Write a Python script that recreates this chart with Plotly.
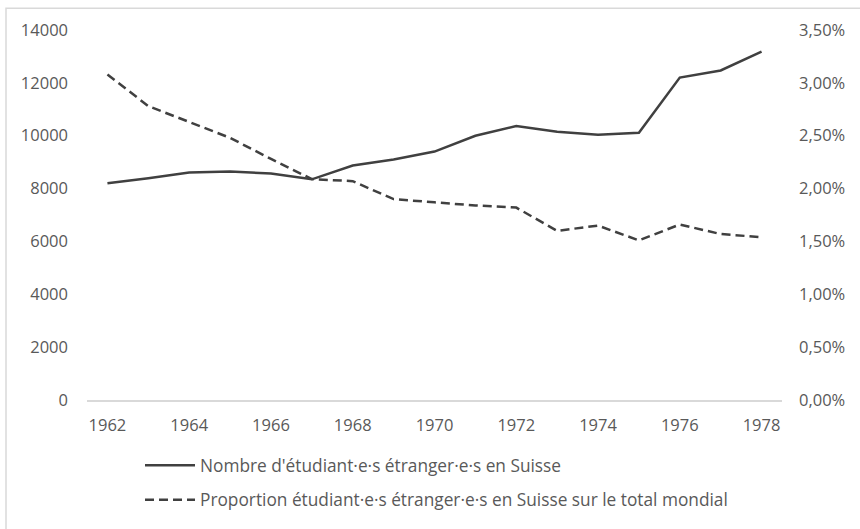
import plotly.graph_objects as go

years = list(range(1962, 1979))
students = [8200, 8390, 8610, 8650, 8570, 8350, 8870, 9100, 9400, 10000,
            10370, 10150, 10040, 10110, 12200, 12470, 13180]
share_pct = [3.08, 2.78, 2.63, 2.48, 2.28, 2.09, 2.07, 1.90, 1.87, 1.84,
             1.82, 1.60, 1.65, 1.51, 1.66, 1.57, 1.54]

name1 = "Nombre d'étudiant·e·s étranger·e·s en Suisse"
name2 = "Proportion étudiant·e·s étranger·e·s en Suisse sur le total mondial"

line_col = "#404040"
txt_col = "#595959"
font_fam = "Open Sans, Noto Sans, sans-serif"

fig = go.Figure()
fig.add_trace(go.Scatter(x=years, y=students, mode="lines", name=name1, legendgroup="a",
                         line=dict(color=line_col, width=2.5), yaxis="y"))
fig.add_trace(go.Scatter(x=years, y=[v / 100 for v in share_pct], mode="lines", name=name2,
                         legendgroup="b",
                         line=dict(color=line_col, width=2.5, dash="9px,5px"), yaxis="y2"))

L, R, T, B = 87, 78, 30, 125
W, H = 860, 529
pw, ph = W - L - R, H - T - B

def px(x):
    return (x - L) / pw

def py(y):
    return (H - B - y) / ph

fig.update_layout(
    width=W, height=H,
    margin=dict(l=L, r=R, t=T, b=B, pad=0),
    paper_bgcolor="white", plot_bgcolor="white",
    separators=",.",
    font=dict(family=font_fam, size=16.5, color=txt_col),
    showlegend=True,
    legend=dict(orientation="v", x=px(140), y=py(452), xanchor="left", yanchor="top",
                font=dict(size=17.3, color=txt_col), itemwidth=50, traceorder="grouped",
                tracegroupgap=9, bgcolor="rgba(0,0,0,0)"),
    xaxis=dict(range=[1961.5, 1978.5], tickmode="array", tickvals=years[::2],
               ticktext=[str(y) for y in years[::2]], showgrid=False, zeroline=False,
               showline=True, linecolor="#d9d9d9", linewidth=1.5, ticks="",
               ticklabelstandoff=9, tickfont=dict(size=16.5, color=txt_col)),
    yaxis=dict(range=[0, 14000], dtick=2000, tickformat="d", showgrid=False,
               zeroline=False, showline=False, ticks="", ticklabelstandoff=18,
               tickfont=dict(size=16.5, color=txt_col)),
    yaxis2=dict(range=[0, 0.035], dtick=0.005, tickformat=".2%", overlaying="y",
                side="right", showgrid=False, zeroline=False, showline=False,
                ticks="", ticklabelstandoff=16, tickfont=dict(size=16.5, color=txt_col)),
    shapes=[dict(type="rect", xref="paper", yref="paper",
                 x0=px(6), x1=px(870), y0=py(540), y1=py(8),
                 line=dict(color="#d9d9d9", width=1.5), fillcolor="rgba(0,0,0,0)",
                 layer="below")],
)

fig.write_html("out.html", config={"displayModeBar": False},
               post_script="document.body.style.margin='0';document.body.style.padding='0';")
